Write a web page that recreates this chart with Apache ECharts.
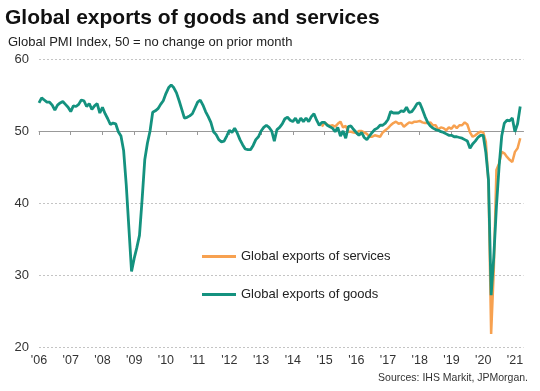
<!DOCTYPE html>
<html><head><meta charset="utf-8">
<script src="https://cdn.jsdelivr.net/npm/echarts@6/dist/echarts.min.js"></script>
<style>html,body{margin:0;padding:0;background:#fff}#c{width:540px;height:391px}</style>
</head><body><div id="c"></div>
<script>
// Year ticks on the x axis
const yearTicks = [2006,2007,2008,2009,2010,2011,2012,2013,2014,2015,2016,2017,2018,2019,2020,2021];

// Global exports of goods, monthly from Jan 2006
const goodsStart = [2006, 0];
const goods = [
  53.9, 54.6, 54.3, 54.0, 54.0, 53.6, 52.9, 53.6, 53.9, 54.1, 53.7, 53.3,
  52.7, 53.5, 53.4, 53.7, 54.3, 54.2, 53.4, 53.8, 53.0, 53.5, 53.8, 52.5,
  53.3, 52.4, 51.7, 50.9, 51.1, 51.0, 49.9, 49.3, 47.3, 42.5, 36.5, 30.5,
  32.3, 33.8, 35.5, 40.5, 46.0, 48.3, 50.0, 52.6, 52.8, 53.1, 53.7, 54.2,
  55.2, 56.0, 56.4, 56.0, 55.3, 54.2, 53.0, 51.8, 51.9, 52.1, 52.4, 53.2,
  54.0, 54.3, 53.6, 52.7, 52.0, 51.2, 49.9, 49.5, 48.8, 48.5, 48.6, 49.3,
  50.1, 49.8, 50.4, 49.7, 48.8, 48.1, 47.5, 47.4, 47.4, 48.0, 48.8, 49.2,
  50.0, 50.5, 50.8, 50.5, 50.0, 48.6, 50.2, 50.5, 51.0, 51.7, 51.9, 51.5,
  51.3, 51.8, 51.1, 51.8, 51.3, 51.8, 51.3, 52.0, 52.4, 51.5, 50.8, 51.2,
  51.2, 50.8, 50.6, 50.4, 49.9, 50.5, 49.3, 50.0, 49.0, 50.6, 50.7, 50.2,
  49.8, 49.4, 49.8, 49.1, 48.8, 49.3, 49.8, 50.2, 50.4, 50.8, 50.8, 51.1,
  51.6, 52.7, 52.5, 52.5, 52.5, 52.8, 52.7, 53.3, 52.6, 52.7, 53.2, 53.8,
  53.9, 53.0, 52.0, 51.2, 50.7, 50.4, 50.2, 50.1, 49.9, 49.8, 49.6, 49.4,
  49.4, 49.2, 49.2, 49.1, 49.0, 48.8, 48.6, 47.6, 48.2, 48.6, 49.1, 49.4,
  49.4, 47.0, 43.2, 27.2, 32.5, 39.5, 45.0, 49.3, 51.1, 51.5, 51.4, 51.8,
  49.9, 51.0, 53.4
];

// Global exports of services, monthly from Dec 2014
const servicesStart = [2014, 11];
const services = [
  50.6,
  51.2, 50.9, 50.7, 50.8, 50.6, 51.0, 51.3, 50.5, 50.7, 49.9, 49.9, 49.8,
  49.7, 50.0, 50.0, 49.8, 49.6, 49.2, 49.2, 49.4, 49.3, 49.2, 49.8, 50.1,
  50.4, 50.8, 51.1, 51.3, 51.0, 51.1, 50.6, 50.9, 51.2, 51.1, 51.3, 51.3,
  51.4, 51.2, 51.1, 51.1, 51.2, 50.8, 50.8, 50.2, 50.5, 50.4, 50.1, 50.5,
  50.3, 50.8, 50.4, 50.8, 50.8, 51.2, 50.9, 49.8, 49.2, 49.4, 49.7, 49.9,
  49.8, 48.5, 42.7, 21.8, 30.7, 44.6, 45.5, 47.1, 46.9, 46.4, 46.0, 45.7,
  47.1, 47.6, 49.0
];

const seriesNames = ['Global exports of services', 'Global exports of goods'];

function toPoints(start, vals) {
  return vals.map(function (v, i) { return [start[0] + (start[1] + i) / 12, v]; });
}

const FONT = '"Liberation Sans", Arial, Helvetica, sans-serif';
const XMAX = 2021.27;
const chart = echarts.init(document.getElementById('c'), null, {renderer: 'canvas'});
chart.setOption({
  animation: false,
  backgroundColor: '#ffffff',
  textStyle: {fontFamily: FONT},
  title: [
    {text: 'Global exports of goods and services', left: 5, top: 8, padding: 0,
     textStyle: {fontSize: 21, fontWeight: 'bold', color: '#111', fontFamily: FONT}},
    {text: 'Global PMI Index, 50 = no change on prior month', left: 8, top: 36, padding: 0,
     textStyle: {fontSize: 13, fontWeight: 'normal', color: '#222', fontFamily: FONT}},
    {text: 'Sources: IHS Markit, JPMorgan.', right: 12, top: 373, padding: 0,
     textStyle: {fontSize: 10.5, fontWeight: 'normal', color: '#333', fontFamily: FONT}}
  ],
  grid: [
    {left: 39, right: 16.5, top: 59, bottom: 44},
    {left: 39, right: 16.5, top: 59, height: 72}
  ],
  xAxis: [
    {type: 'value', gridIndex: 0, min: 2006, max: XMAX,
     axisLine: {show: false}, axisTick: {show: false}, splitLine: {show: false},
     axisLabel: {customValues: yearTicks, formatter: function (v) { return "'" + String(v).slice(2); },
                 fontSize: 12.5, color: '#333', margin: 7, fontFamily: FONT}},
    {type: 'value', gridIndex: 1, min: 2006, max: XMAX,
     axisLine: {show: true, lineStyle: {color: '#999', width: 1}},
     axisTick: {show: true, customValues: yearTicks, length: 4, lineStyle: {color: '#999'}},
     axisLabel: {show: false}, splitLine: {show: false}}
  ],
  yAxis: [
    {type: 'value', gridIndex: 0, min: 20, max: 60, interval: 10,
     axisLine: {show: false}, axisTick: {show: false},
     axisLabel: {fontSize: 13, color: '#333', margin: 10, fontFamily: FONT},
     splitLine: {lineStyle: {color: '#c4c4c4', type: [2, 2], width: 1}}},
    {type: 'value', gridIndex: 1, min: 0, max: 1, show: false}
  ],
  legend: {
    left: 202, top: 250, orient: 'vertical', padding: 0,
    itemWidth: 34, itemHeight: 3, itemGap: 25, icon: 'rect',
    textStyle: {fontSize: 13, color: '#222', fontFamily: FONT},
    data: seriesNames
  },
  series: [
    {name: seriesNames[0], type: 'line', xAxisIndex: 0, yAxisIndex: 0,
     data: toPoints(servicesStart, services), symbol: 'none', showSymbol: false,
     color: '#f7a150', lineStyle: {width: 2.5, color: '#f7a150'}},
    {name: seriesNames[1], type: 'line', xAxisIndex: 0, yAxisIndex: 0,
     data: toPoints(goodsStart, goods), symbol: 'none', showSymbol: false,
     color: '#14927f', lineStyle: {width: 2.8, color: '#14927f'}}
  ]
});
</script>
</body></html>
